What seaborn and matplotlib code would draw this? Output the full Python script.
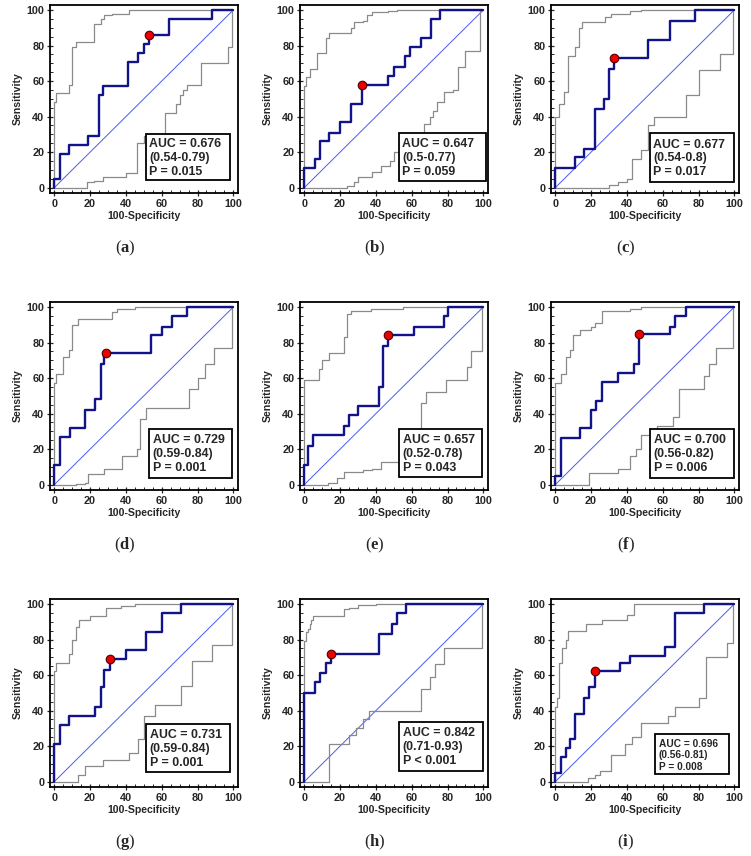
import matplotlib
matplotlib.use("Agg")
import matplotlib.pyplot as plt
from matplotlib.patches import Rectangle
from matplotlib.ticker import MultipleLocator
import seaborn as sns

# ROC step curves: x where each vertical step happens, y level reached
blue_x = [
    [0, 3, 8, 19, 25, 27, 41, 47, 50, 53, 64, 88],
    [0, 6, 9, 14, 20, 26, 32, 47, 50, 56, 59, 65, 71, 76],
    [0, 11, 16, 22, 27, 30, 33, 52, 64, 78],
    [0, 3, 9, 17, 23, 26, 28, 54, 60, 66, 74],
    [0, 2, 5, 22, 25, 30, 42, 44, 47, 61, 78, 80],
    [0, 3, 14, 20, 23, 26, 35, 44, 47, 64, 67, 73],
    [0, 3, 8, 23, 26, 28, 31, 40, 51, 60, 71],
    [0, 6, 9, 12, 15, 42, 49, 52, 57],
    [0, 3, 6, 8, 11, 16, 19, 22, 36, 42, 61, 67, 83],
]
blue_y = [
    [5, 19, 24, 29, 52, 57, 71, 76, 81, 86, 95, 100],
    [11, 16, 26, 31, 37, 47, 58, 63, 68, 74, 79, 84, 95, 100],
    [11, 17, 22, 44, 50, 67, 73, 83, 94, 100],
    [11, 27, 32, 42, 48, 68, 74, 84, 89, 95, 100],
    [11, 22, 28, 33, 39, 44, 55, 78, 84, 89, 95, 100],
    [5, 26, 32, 42, 47, 58, 63, 68, 85, 89, 95, 100],
    [21, 32, 37, 42, 53, 63, 69, 74, 84, 95, 100],
    [50, 56, 61, 67, 72, 83, 89, 95, 100],
    [5, 14, 19, 24, 38, 47, 53, 62, 67, 71, 76, 95, 100],
]
upper_x = [
    [0, 1, 8, 10, 12, 22, 26, 28, 32, 42],
    [0, 1, 3, 7, 12, 14, 26, 28, 33, 35, 38, 47, 52],
    [0, 2, 5, 7, 11, 13, 15, 28, 31, 42, 48],
    [0, 1, 5, 8, 10, 13, 32, 35, 45],
    [0, 8, 10, 14, 22, 24, 26, 37, 55],
    [0, 3, 6, 8, 10, 14, 20, 22, 26, 42, 48],
    [0, 1, 8, 10, 12, 14, 20, 29, 37, 45],
    [0, 1, 2, 3, 4, 5, 22, 25, 30, 40],
    [0, 1, 2, 4, 6, 7, 17, 26, 40, 44],
]
upper_y = [
    [48, 53, 58, 79, 82, 92, 95, 97, 98, 100],
    [57, 62, 67, 76, 84, 87, 90, 93, 94, 97, 99, 99.5, 100],
    [40, 47, 54, 74, 79, 90, 93, 96, 98, 99.5, 100],
    [57, 62, 72, 76, 90, 93, 97, 99, 100],
    [59, 65, 70, 74, 83, 96, 98, 99, 100],
    [57, 62, 72, 76, 84, 87, 89, 91, 98, 99, 100],
    [62, 67, 72, 80, 87, 91, 93, 98, 99, 100],
    [79, 84, 86, 89, 91, 93, 97, 98, 99.5, 100],
    [42, 47, 67, 75, 80, 85, 89, 91, 94, 100],
]
lower_x = [
    [18, 22, 27, 40, 46, 50, 62, 68, 70, 72, 74, 82, 97, 99],
    [24, 28, 30, 38, 43, 48, 50, 57, 62, 67, 70, 72, 74, 78, 83, 86, 90, 98],
    [30, 35, 40, 43, 48, 52, 55, 73, 80, 92, 99],
    [12, 17, 19, 28, 38, 46, 48, 51, 75, 80, 84, 89, 99],
    [13, 18, 22, 33, 38, 43, 53, 61, 65, 68, 79, 91, 93, 99],
    [19, 35, 42, 45, 48, 57, 66, 69, 83, 86, 90, 99],
    [13, 17, 27, 42, 47, 50, 56, 71, 77, 88, 99],
    [14, 25, 29, 33, 36, 65, 70, 73, 78, 99.5],
    [18, 22, 25, 31, 39, 43, 48, 63, 67, 80, 84, 96, 99.5],
]
lower_y = [
    [3, 4, 6, 8, 25, 29, 42, 47, 52, 55, 58, 70, 79, 100],
    [1, 3, 6, 9, 12, 15, 20, 27, 31, 36, 40, 43, 48, 54, 55, 68, 77, 100],
    [1.5, 3, 5, 16, 21, 35, 40, 52, 66, 75, 100],
    [0.5, 1, 6, 9, 16, 20, 37, 43, 54, 60, 68, 77, 100],
    [1, 4, 7, 8, 9, 13, 15, 22, 46, 52, 59, 66, 75, 100],
    [6.5, 9, 16, 20, 28, 33, 38, 54, 61, 68, 77, 100],
    [4, 9, 12, 16, 24, 37, 43, 54, 68, 77, 100],
    [21, 26, 30, 35, 40, 52, 59, 66, 75, 100],
    [2, 4, 6, 15, 21, 25, 33, 37, 42, 47, 70, 78, 100],
]
cut_x = [53, 32, 33, 29, 47, 47, 31, 15, 22]
cut_y = [86, 58, 73, 74, 84, 85, 69, 72, 62]

auc = ["0.676", "0.647", "0.677", "0.729", "0.657", "0.700", "0.731", "0.842", "0.696"]
ci = ["(0.54-0.79)", "(0.5-0.77)", "(0.54-0.8)", "(0.59-0.84)", "(0.52-0.78)",
      "(0.56-0.82)", "(0.59-0.84)", "(0.71-0.93)", "(0.56-0.81)"]
pval = ["P = 0.015", "P = 0.059", "P = 0.017", "P = 0.001", "P = 0.043",
        "P = 0.006", "P = 0.001", "P < 0.001", "P = 0.008"]
letters = ["a", "b", "c", "d", "e", "f", "g", "h", "i"]

# annotation box extents in data units (x0, x1, y0, y1)
boxes = [(51, 98, 4.3, 30), (52.7, 101.5, 3.8, 30.6), (52.7, 100, 3.4, 30.6),
         (52.9, 99.4, 3.9, 31.5), (53, 99.4, 4.1, 31.6), (52.9, 99.6, 3.6, 31.6),
         (51.2, 98.3, 5.6, 32.5), (52.9, 100, 6.2, 33.8), (55.7, 96.8, 4.3, 26.6)]


def stairs(xs, ys):
    px, py, prev = [0], [0], 0
    for x, y in zip(xs, ys):
        px += [x, x]
        py += [prev, y]
        prev = y
    px.append(100)
    py.append(prev)
    return px, py


sns.set_style("white")
plt.rcParams["font.family"] = ["Liberation Sans", "DejaVu Sans"]
plt.rcParams["mathtext.fontset"] = "custom"
plt.rcParams["mathtext.rm"] = "Liberation Serif"
plt.rcParams["mathtext.bf"] = "Liberation Serif:bold"

W, H = 751, 856
fig = plt.figure(figsize=(W / 100, H / 100), dpi=100)
col_left = [50, 300, 551]
row_bottom = [193, 490, 787]
row_caption = [248, 545, 842]
col_center = [125, 375, 626]
size = 188

for k in range(9):
    r, c = divmod(k, 3)
    ax = fig.add_axes([col_left[c] / W, 1 - row_bottom[r] / H, size / W, size / H])

    sns.lineplot(x=[0, 100], y=[0, 100], color="#4a5cf0", lw=0.7, ax=ax)
    for xs, ys in ((upper_x[k], upper_y[k]), (lower_x[k], lower_y[k])):
        px, py = stairs(xs, ys)
        sns.lineplot(x=px, y=py, estimator=None, sort=False, color="#8a8a8a", lw=0.9, ax=ax)
    px, py = stairs(blue_x[k], blue_y[k])
    sns.lineplot(x=px, y=py, estimator=None, sort=False, color="#12128a", lw=1.7, ax=ax)
    sns.scatterplot(x=[cut_x[k]], y=[cut_y[k]], color="#ee0000", edgecolor="#500000",
                    linewidth=0.8, s=38, zorder=5, ax=ax)

    x0, x1, y0, y1 = boxes[k]
    ax.add_patch(Rectangle((x0, y0), x1 - x0, y1 - y0, facecolor="white",
                           edgecolor="black", lw=1.3, zorder=6))
    fs = 7.3 if k == 8 else 8.9
    ax.text(x0 + 2, (y0 + y1) / 2 - 0.5, f"AUC = {auc[k]}\n{ci[k]}\n{pval[k]}",
            ha="left", va="center", fontsize=fs, fontweight="bold",
            linespacing=1.2, zorder=7)

    ax.set_xlim(-2.4, 102.6)
    ax.set_ylim(-3, 102.8)
    ax.xaxis.set_major_locator(MultipleLocator(20))
    ax.yaxis.set_major_locator(MultipleLocator(20))
    ax.xaxis.set_minor_locator(MultipleLocator(5))
    ax.yaxis.set_minor_locator(MultipleLocator(5))
    ax.tick_params(which="major", direction="inout", length=5, width=0.9,
                   labelsize=7.8, pad=1.5, bottom=True, left=True)
    ax.tick_params(which="minor", direction="in", length=2.5, width=0.7,
                   bottom=True, left=True)
    for lab in ax.get_xticklabels() + ax.get_yticklabels():
        lab.set_fontweight("bold")
    for sp in ax.spines.values():
        sp.set_linewidth(1.3)
        sp.set_color("black")
    ax.set_xlabel("100-Specificity", fontsize=7.6, fontweight="bold", labelpad=1.5)
    ax.set_ylabel("Sensitivity", fontsize=7.6, fontweight="bold", labelpad=3)

    fig.text(col_center[c] / W, 1 - row_caption[r] / H, rf"$(\mathbf{{{letters[k]}}})$",
             ha="center", va="center", fontsize=12)

fig.savefig("out.png", dpi=100)
